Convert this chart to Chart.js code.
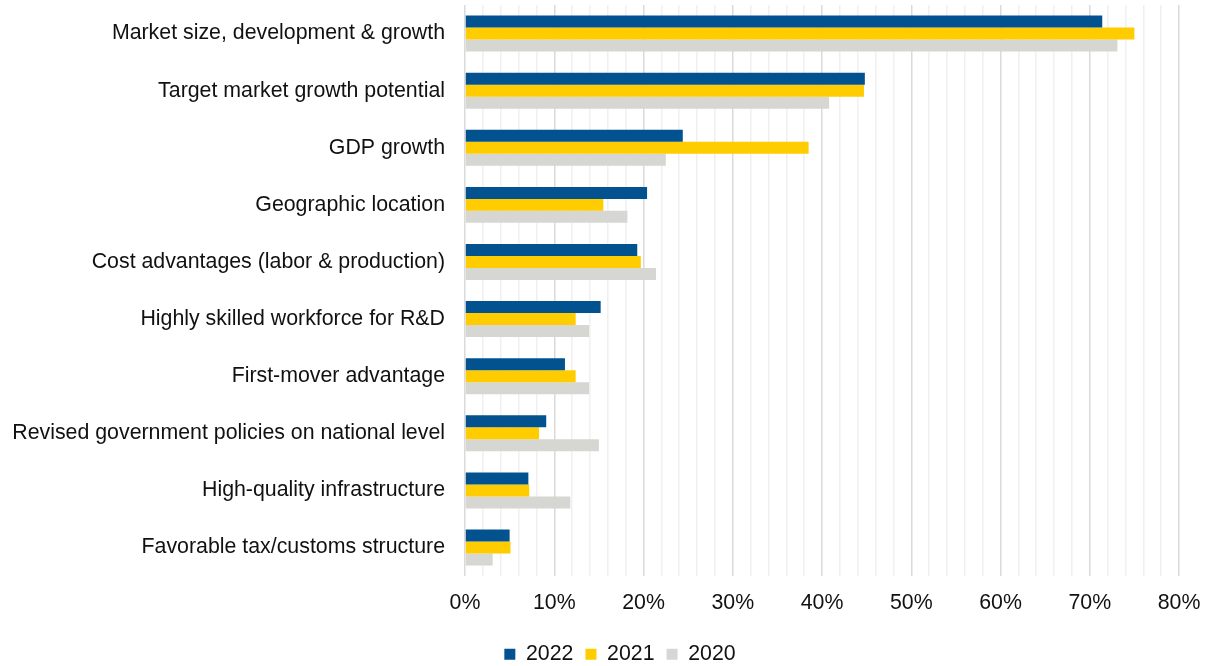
<!DOCTYPE html>
<html>
<head>
<meta charset="utf-8">
<script src="https://cdn.jsdelivr.net/npm/chart.js@4.4.1/dist/chart.umd.min.js"></script>
<style>
  html, body { margin: 0; padding: 0; background: #ffffff; }
  #wrap { width: 1208px; height: 666px; }
</style>
</head>
<body>
<div id="wrap"><canvas id="c" width="1208" height="666"></canvas></div>
<script>
// Location factors, share of respondents (%)
const categories = [
  'Market size, development & growth',
  'Target market growth potential',
  'GDP growth',
  'Geographic location',
  'Cost advantages (labor & production)',
  'Highly skilled workforce for R&D',
  'First-mover advantage',
  'Revised government policies on national level',
  'High-quality infrastructure',
  'Favorable tax/customs structure'
];
const seriesNames = ['2022', '2021', '2020'];
const values2022 = [71.4, 44.8, 24.4, 20.4, 19.3, 15.2, 11.2, 9.1, 7.1, 5.0];
const values2021 = [75.0, 44.7, 38.5, 15.5, 19.7, 12.4, 12.4, 8.3, 7.2, 5.1];
const values2020 = [73.1, 40.8, 22.5, 18.2, 21.4, 13.9, 13.9, 15.0, 11.8, 3.1];
const xTickLabels = ['0%', '10%', '20%', '30%', '40%', '50%', '60%', '70%', '80%'];

const colors = ['#02528f', '#ffcc00', '#d6d6d2'];
const FONT = "'Liberation Sans', Arial, sans-serif";
const FONT_SIZE = 21.33;

// Nudges the legend block after layout
const legendShift = {
  id: 'legendShift',
  afterLayout(chart) {
    const lg = chart.legend;
    if (!lg) return;
    const dx = 24, dy = 2;
    lg.left += dx; lg.right += dx;
    lg.top += dy; lg.bottom += dy;
    if (lg.legendHitBoxes) lg.legendHitBoxes.forEach(b => { b.left += dx; b.top += dy; });
  }
};

new Chart(document.getElementById('c'), {
  type: 'bar',
  data: {
    labels: categories,
    datasets: [values2022, values2021, values2020].map((vals, i) => ({
      label: seriesNames[i],
      data: vals,
      backgroundColor: colors[i],
      borderWidth: 0,
      categoryPercentage: 0.63,
      barPercentage: 1.0
    }))
  },
  options: {
    indexAxis: 'y',
    responsive: false,
    animation: false,
    devicePixelRatio: 1,
    layout: { padding: { left: 13, right: 29, top: 5, bottom: -7 } },
    scales: {
      x: {
        min: 0, max: 80,
        border: { display: false },
        grid: {
          drawTicks: false,
          lineWidth: 1.5,
          color: ctx => (ctx.tick && ctx.tick.value % 10 === 0) ? '#dadada' : '#f0f0f0'
        },
        ticks: {
          stepSize: 2,
          autoSkip: false,
          maxRotation: 0,
          padding: 14,
          color: '#111111',
          font: { family: FONT, size: FONT_SIZE },
          // empty string keeps the minor grid line while hiding its label
          callback: v => (v % 10 === 0) ? xTickLabels[v / 10] : ''
        },
        afterFit: s => { s.paddingLeft = 0; s.paddingRight = 0; }
      },
      y: {
        border: { display: false },
        grid: { display: false, drawTicks: false },
        ticks: {
          padding: 20,
          autoSkip: false,
          color: '#111111',
          font: { family: FONT, size: FONT_SIZE }
        },
        afterFit: s => { s.width = 452; s.paddingTop = 0; s.paddingBottom = 0; }
      }
    },
    plugins: {
      legend: {
        position: 'bottom',
        labels: {
          boxWidth: 11,
          boxHeight: 11,
          padding: 12,
          color: '#111111',
          font: { family: FONT, size: FONT_SIZE }
        }
      },
      tooltip: { enabled: false }
    }
  },
  plugins: [legendShift]
});
</script>
</body>
</html>
